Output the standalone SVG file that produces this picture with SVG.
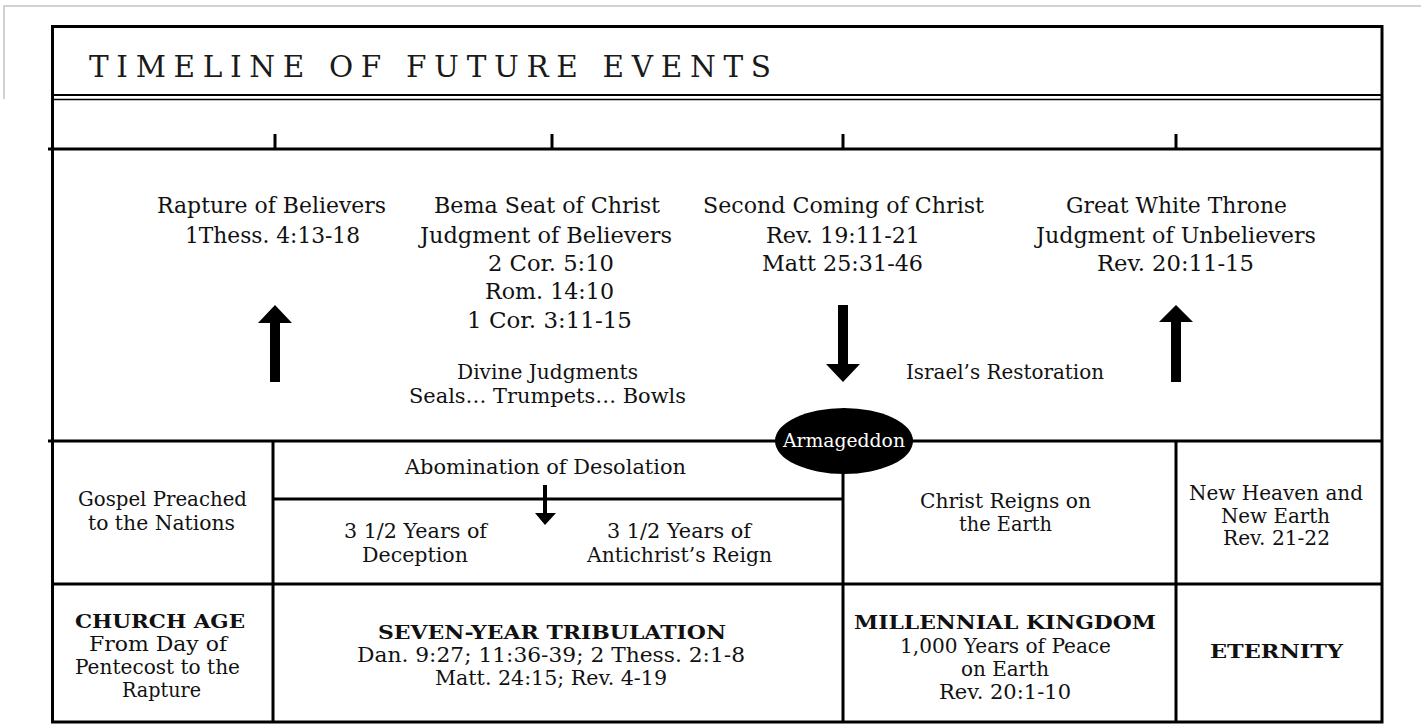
<svg xmlns="http://www.w3.org/2000/svg" width="1421" height="725" viewBox="0 0 1421 725">
<style>
.t{font-family:"DejaVu Serif","Liberation Serif",serif;fill:#111;text-anchor:middle}
.u{font-size:22px}
.l{font-size:19.5px}
.b{font-weight:bold;font-size:19px}
.ln{stroke:#000;fill:none;stroke-width:3}
.ar{fill:#000}
</style>
<rect width="1421" height="725" fill="#fff"/>
<g id="page-edge" stroke="#c4c4c4" stroke-width="1.5" fill="none">
<path d="M4,99 V6 H1421"/>
</g>
<g id="frame">
<rect class="ln" x="52.5" y="26.5" width="1329.5" height="695.5"/>
<line x1="52" y1="95" x2="1382" y2="95" stroke="#000" stroke-width="2"/>
<line x1="52" y1="99.5" x2="1382" y2="99.5" stroke="#000" stroke-width="1.5"/>
<line class="ln" x1="48" y1="149" x2="1382" y2="149"/>
<line class="ln" x1="48" y1="441" x2="1382" y2="441"/>
<line class="ln" x1="52" y1="584" x2="1382" y2="584"/>
<line class="ln" x1="273" y1="441" x2="273" y2="722"/>
<line class="ln" x1="843" y1="441" x2="843" y2="722"/>
<line class="ln" x1="1176" y1="441" x2="1176" y2="722"/>
<line class="ln" x1="273" y1="499" x2="843" y2="499" stroke-width="2.5"/>
<line class="ln" x1="275" y1="134" x2="275" y2="149"/>
<line class="ln" x1="552" y1="134" x2="552" y2="149"/>
<line class="ln" x1="843" y1="134" x2="843" y2="149"/>
<line class="ln" x1="1176" y1="134" x2="1176" y2="149"/>
</g>
<g id="title">
<text x="89" y="77" font-family="DejaVu Serif, serif" font-size="29.5" fill="#1a1a1a" textLength="682" lengthAdjust="spacing">TIMELINE OF FUTURE EVENTS</text>
</g>
<g id="connectors">
<polygon class="ar" points="275,305 292,323 280,323 280,382 270,382 270,323 258,323"/>
<polygon class="ar" points="843,382 860,364 848,364 848,305 838,305 838,364 826,364"/>
<polygon class="ar" points="1176,305 1193,322 1181,322 1181,382 1171,382 1171,322 1159,322"/>
<polygon class="ar" points="545,525 556,513 547,513 547,485 543,485 543,513 535,513"/>
</g>
<g id="rapture">
<text class="t u" x="271.5" y="213" textLength="229" lengthAdjust="spacingAndGlyphs">Rapture of Believers</text>
<text class="t u" x="272.5" y="243" textLength="175" lengthAdjust="spacingAndGlyphs">1Thess. 4:13-18</text>
</g>
<g id="bema">
<text class="t u" x="547" y="213" textLength="226" lengthAdjust="spacingAndGlyphs">Bema Seat of Christ</text>
<text class="t u" x="546" y="243" textLength="252" lengthAdjust="spacingAndGlyphs">Judgment of Believers</text>
<text class="t u" x="551" y="271" textLength="126" lengthAdjust="spacingAndGlyphs">2 Cor. 5:10</text>
<text class="t u" x="549.5" y="299" textLength="129" lengthAdjust="spacingAndGlyphs">Rom. 14:10</text>
<text class="t u" x="549.5" y="328" textLength="165" lengthAdjust="spacingAndGlyphs">1 Cor. 3:11-15</text>
</g>
<g id="second-coming">
<text class="t u" x="843.5" y="213" textLength="281" lengthAdjust="spacingAndGlyphs">Second Coming of Christ</text>
<text class="t u" x="843" y="243" textLength="154" lengthAdjust="spacingAndGlyphs">Rev. 19:11-21</text>
<text class="t u" x="842.5" y="271" textLength="161" lengthAdjust="spacingAndGlyphs">Matt 25:31-46</text>
</g>
<g id="great-white-throne">
<text class="t u" x="1176.5" y="213" textLength="221" lengthAdjust="spacingAndGlyphs">Great White Throne</text>
<text class="t u" x="1176" y="243" textLength="280" lengthAdjust="spacingAndGlyphs">Judgment of Unbelievers</text>
<text class="t u" x="1175.5" y="271" textLength="157" lengthAdjust="spacingAndGlyphs">Rev. 20:11-15</text>
</g>
<g id="divine-judgments">
<text class="t l" x="547.5" y="379" textLength="181" lengthAdjust="spacingAndGlyphs">Divine Judgments</text>
<text class="t l" x="547.5" y="403" textLength="277" lengthAdjust="spacingAndGlyphs">Seals… Trumpets… Bowls</text>
</g>
<g id="israel-restoration">
<text class="t l" x="1005" y="379" textLength="198" lengthAdjust="spacingAndGlyphs">Israel’s Restoration</text>
</g>
<g id="armageddon">
<ellipse cx="844" cy="441" rx="69" ry="33" fill="#000"/>
<text x="844" y="447" font-family="DejaVu Serif, serif" font-size="18" fill="#fff" text-anchor="middle" textLength="122" lengthAdjust="spacingAndGlyphs">Armageddon</text>
</g>
<g id="abomination">
<text class="t l" x="545.5" y="474" textLength="281" lengthAdjust="spacingAndGlyphs">Abomination of Desolation</text>
</g>
<g id="gospel">
<text class="t l" x="162.5" y="506" textLength="169" lengthAdjust="spacingAndGlyphs">Gospel Preached</text>
<text class="t l" x="161.5" y="530" textLength="147" lengthAdjust="spacingAndGlyphs">to the Nations</text>
</g>
<g id="deception">
<text class="t l" x="415.5" y="538" textLength="143" lengthAdjust="spacingAndGlyphs">3 1/2 Years of</text>
<text class="t l" x="415" y="562" textLength="106" lengthAdjust="spacingAndGlyphs">Deception</text>
</g>
<g id="antichrist-reign">
<text class="t l" x="679" y="538" textLength="144" lengthAdjust="spacingAndGlyphs">3 1/2 Years of</text>
<text class="t l" x="679.5" y="562" textLength="185" lengthAdjust="spacingAndGlyphs">Antichrist’s Reign</text>
</g>
<g id="christ-reigns">
<text class="t l" x="1005.5" y="508" textLength="171" lengthAdjust="spacingAndGlyphs">Christ Reigns on</text>
<text class="t l" x="1005.5" y="531" textLength="93" lengthAdjust="spacingAndGlyphs">the Earth</text>
</g>
<g id="new-heaven">
<text class="t l" x="1276" y="500" textLength="174" lengthAdjust="spacingAndGlyphs">New Heaven and</text>
<text class="t l" x="1275.5" y="523" textLength="109" lengthAdjust="spacingAndGlyphs">New Earth</text>
<text class="t l" x="1276.5" y="545" textLength="107" lengthAdjust="spacingAndGlyphs">Rev. 21-22</text>
</g>
<g id="church-age">
<text class="t b" x="160" y="628" textLength="170" lengthAdjust="spacingAndGlyphs">CHURCH AGE</text>
<text class="t l" x="158" y="651" textLength="138" lengthAdjust="spacingAndGlyphs">From Day of</text>
<text class="t l" x="157.5" y="674" textLength="165" lengthAdjust="spacingAndGlyphs">Pentecost to the</text>
<text class="t l" x="161.5" y="697" textLength="79" lengthAdjust="spacingAndGlyphs">Rapture</text>
</g>
<g id="tribulation">
<text class="t b" x="552" y="639" textLength="348" lengthAdjust="spacingAndGlyphs">SEVEN-YEAR TRIBULATION</text>
<text class="t l" x="551" y="662" textLength="388" lengthAdjust="spacingAndGlyphs">Dan. 9:27; 11:36-39; 2 Thess. 2:1-8</text>
<text class="t l" x="551" y="685" textLength="232" lengthAdjust="spacingAndGlyphs">Matt. 24:15; Rev. 4-19</text>
</g>
<g id="millennial">
<text class="t b" x="1005" y="629" textLength="302" lengthAdjust="spacingAndGlyphs">MILLENNIAL KINGDOM</text>
<text class="t l" x="1005.5" y="653" textLength="211" lengthAdjust="spacingAndGlyphs">1,000 Years of Peace</text>
<text class="t l" x="1005" y="676" textLength="88" lengthAdjust="spacingAndGlyphs">on Earth</text>
<text class="t l" x="1005" y="699" textLength="132" lengthAdjust="spacingAndGlyphs">Rev. 20:1-10</text>
</g>
<g id="eternity">
<text class="t b" x="1276.5" y="658" textLength="133" lengthAdjust="spacingAndGlyphs">ETERNITY</text>
</g>
</svg>
